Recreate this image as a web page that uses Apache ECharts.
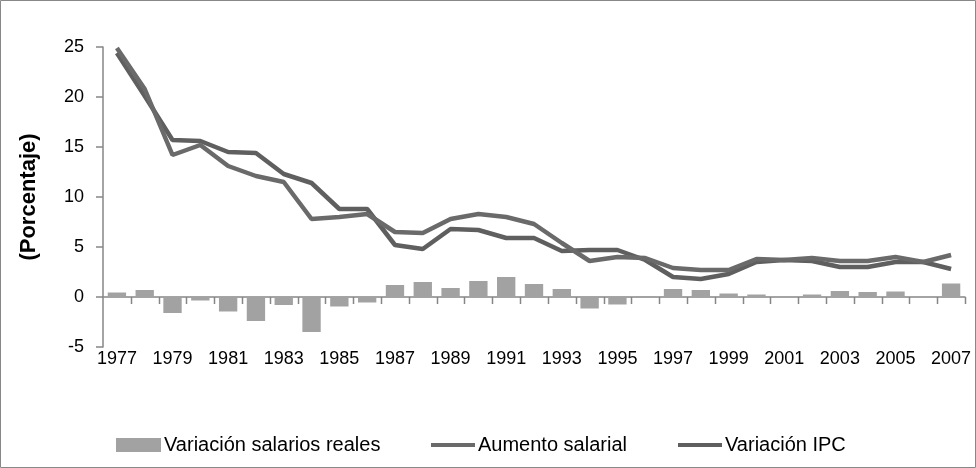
<!DOCTYPE html>
<html>
<head>
<meta charset="utf-8">
<script src="https://cdn.jsdelivr.net/npm/echarts@6/dist/echarts.min.js"></script>
<style>html,body{margin:0;padding:0;background:#fff}#c{width:976px;height:468px}</style>
</head>
<body>
<div id="c"></div>
<script>
var years = ['1977','1978','1979','1980','1981','1982','1983','1984','1985','1986','1987','1988','1989','1990','1991','1992','1993','1994','1995','1996','1997','1998','1999','2000','2001','2002','2003','2004','2005','2006','2007'];
var salariosReales = [0.45,0.7,-1.6,-0.35,-1.45,-2.4,-0.8,-3.5,-0.95,-0.55,1.2,1.5,0.9,1.6,2.0,1.3,0.8,-1.15,-0.75,0.1,0.8,0.7,0.35,0.25,0.0,0.25,0.6,0.5,0.55,0.0,1.35];
var aumentoSalarial = [24.9,20.8,14.2,15.2,13.1,12.1,11.5,7.8,8.0,8.3,6.5,6.4,7.8,8.3,8.0,7.3,5.4,3.6,4.0,3.9,2.9,2.7,2.7,3.8,3.7,3.9,3.6,3.6,4.0,3.5,4.2];
var variacionIPC = [24.4,20.1,15.7,15.6,14.5,14.4,12.3,11.4,8.8,8.8,5.2,4.8,6.8,6.7,5.9,5.9,4.6,4.7,4.7,3.7,2.0,1.8,2.3,3.5,3.7,3.6,3.0,3.0,3.5,3.5,2.8];
var yTicks = {min: -5, max: 25, interval: 5};

var FONT = '"Liberation Sans", Arial, sans-serif';
var axisColor = '#868686';
var legendText = {fontSize: 20, color: '#000', fontFamily: FONT, padding: [0, 0, 0, -2]};

var chart = echarts.init(document.getElementById('c'), null, {renderer: 'canvas'});
var baseGraphic = [{
  type: 'rect', shape: {x: 0.5, y: 0.5, width: 975, height: 467},
  style: {fill: 'none', stroke: '#888', lineWidth: 1}, silent: true
}, {
  type: 'text', x: 29, y: 197, rotation: Math.PI / 2,
  style: {text: '(Porcentaje)', font: 'bold 22px ' + FONT, fill: '#000', align: 'center', verticalAlign: 'middle'}
}];
chart.setOption({
  animation: false,
  backgroundColor: '#fff',
  textStyle: {fontFamily: FONT},
  graphic: baseGraphic,
  grid: {left: 103, right: 11, top: 47, bottom: 121, containLabel: false},
  legend: [
    {data: [{name: 'Variación salarios reales', icon: 'rect'}], left: 111, top: 430, itemWidth: 45, itemHeight: 14, itemGap: 4,
     textStyle: legendText},
    {data: [{name: 'Aumento salarial', icon: 'rect'}], left: 426, top: 430, itemWidth: 44, itemHeight: 4,
     textStyle: legendText},
    {data: [{name: 'Variación IPC', icon: 'rect'}], left: 673, top: 430, itemWidth: 44, itemHeight: 4,
     textStyle: legendText}
  ],
  xAxis: {
    type: 'category', data: years, position: 'bottom',
    axisLine: {onZero: true, lineStyle: {color: axisColor, width: 1.5}},
    axisTick: {show: false},
    axisLabel: {show: true, interval: 1, fontSize: 18, color: '#000', margin: 3, fontFamily: FONT},
    splitLine: {show: false}
  },
  yAxis: {
    type: 'value', min: yTicks.min, max: yTicks.max, interval: yTicks.interval,
    axisLine: {show: true, lineStyle: {color: axisColor, width: 1.5}},
    axisTick: {show: true, inside: false, length: 7, lineStyle: {color: axisColor, width: 1.5}},
    axisLabel: {fontSize: 18, color: '#000', margin: 19, fontFamily: FONT},
    splitLine: {show: false}
  },
  series: [{
    name: 'Variación salarios reales', type: 'bar', data: salariosReales,
    barCategoryGap: '34%',
    itemStyle: {color: '#a2a2a2'}, z: 1
  }, {
    name: 'Aumento salarial', type: 'line', data: aumentoSalarial,
    symbol: 'none', lineStyle: {color: '#6a6a6a', width: 4.5}, itemStyle: {color: '#6a6a6a'}, z: 3
  }, {
    name: 'Variación IPC', type: 'line', data: variacionIPC,
    symbol: 'none', lineStyle: {color: '#5f5f5f', width: 4.5}, itemStyle: {color: '#5f5f5f'}, z: 2
  }]
});

// category-boundary tick marks under the zero line, placed through the library's scales
var y0 = chart.convertToPixel({yAxisIndex: 0}, 0);
var xa = chart.convertToPixel({xAxisIndex: 0}, 0);
var xb = chart.convertToPixel({xAxisIndex: 0}, 1);
var band = xb - xa;
var ticks = years.map(function (yr, i) {
  var x = Math.round(chart.convertToPixel({xAxisIndex: 0}, i) + band / 2) + 0.5;
  return {
    type: 'line', silent: true, z: 10,
    shape: {x1: x, y1: y0, x2: x, y2: y0 + 7},
    style: {stroke: axisColor, lineWidth: 1.5}
  };
});
chart.setOption({graphic: baseGraphic.concat(ticks)});
</script>
</body>
</html>
